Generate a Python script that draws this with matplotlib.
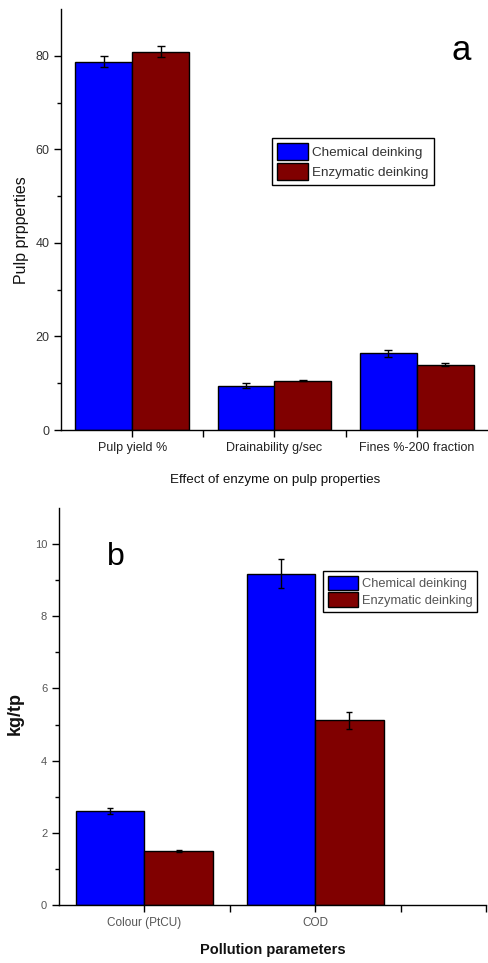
import matplotlib
matplotlib.use("Agg")
import matplotlib.pyplot as plt
import numpy as np

plt.rcParams['font.family'] = ['Liberation Sans', 'DejaVu Sans']

# Panel a data
cats_a = ["Pulp yield %", "Drainability g/sec", "Fines %-200 fraction"]
chem_a = [78.7, 9.5, 16.4]
chem_a_err = [1.2, 0.5, 0.8]
enz_a = [80.9, 10.5, 14.0]
enz_a_err = [1.2, 0.1, 0.4]

# Panel b data
cats_b = ["Colour (PtCU)", "COD"]
chem_b = [2.61, 9.18]
chem_b_err = [0.09, 0.41]
enz_b = [1.50, 5.12]
enz_b_err = [0.03, 0.23]

series_names = ["Chemical deinking", "Enzymatic deinking"]
blue = "#0000FF"
red = "#800000"

W, H = 489, 963
fig = plt.figure(figsize=(W / 100, H / 100), dpi=100)

def px_axes(l, r, t, b):
    return fig.add_axes([l / W, 1 - b / H, (r - l) / W, (b - t) / H])

def style(ax, tick_color, fs):
    for s in ["top", "right"]:
        ax.spines[s].set_visible(False)
    for s in ["left", "bottom"]:
        ax.spines[s].set_linewidth(1.0)
    ax.tick_params(axis="both", which="major", direction="out", length=5, width=1,
                   labelsize=fs, labelcolor=tick_color)
    ax.tick_params(axis="both", which="minor", direction="out", length=3, width=1)

# ---------- Panel a ----------
ax1 = px_axes(61, 488, 9, 430)
x = np.arange(1, len(cats_a) + 1)
w = 0.4
ax1.bar(x - w / 2, chem_a, w, color=blue, edgecolor="black", linewidth=1,
        yerr=chem_a_err, capsize=3, error_kw=dict(elinewidth=1, capthick=1),
        label=series_names[0])
ax1.bar(x + w / 2, enz_a, w, color=red, edgecolor="black", linewidth=1,
        yerr=enz_a_err, capsize=3, error_kw=dict(elinewidth=1, capthick=1),
        label=series_names[1])
ax1.set_xlim(0.5, 3.5)
ax1.set_ylim(0, 90)
ax1.set_yticks([0, 20, 40, 60, 80])
ax1.set_yticks([10, 30, 50, 70], minor=True)
ax1.set_xticks([1, 1.5, 2, 2.5, 3])
ax1.set_xticklabels([cats_a[0], "", cats_a[1], "", cats_a[2]])
style(ax1, "#333333", 9)
for lbl in ax1.get_xticklabels():
    lbl.set_color("#222222")
ax1.text(0.937, 0.879, "a", transform=ax1.transAxes, fontsize=25, ha="center", va="baseline")
leg1 = ax1.legend(loc="upper left", bbox_to_anchor=(0.494, 0.694), fontsize=9.7,
                  handlelength=2.3, handleheight=1.55, labelspacing=0.2,
                  handletextpad=0.3, borderpad=0.4, borderaxespad=0,
                  fancybox=False, framealpha=1, edgecolor="black")
leg1.get_frame().set_linewidth(1.0)
for t in leg1.get_texts():
    t.set_color("#333333")

fig.text(22 / W, 1 - 230 / H, "Pulp prpperties", rotation=90, ha="center", va="center",
         fontsize=11.5, color="#111111")
fig.text(275 / W, 1 - 480 / H, "Effect of enzyme on pulp properties", ha="center",
         va="center", fontsize=9.6, color="#111111")

# ---------- Panel b ----------
ax2 = px_axes(59, 486, 508, 905)
xb = np.arange(1, len(cats_b) + 1)
ax2.bar(xb - w / 2, chem_b, w, color=blue, edgecolor="black", linewidth=1,
        yerr=chem_b_err, capsize=2.5, error_kw=dict(elinewidth=1, capthick=1),
        label=series_names[0])
ax2.bar(xb + w / 2, enz_b, w, color=red, edgecolor="black", linewidth=1,
        yerr=enz_b_err, capsize=2.5, error_kw=dict(elinewidth=1, capthick=1),
        label=series_names[1])
ax2.set_xlim(0.5, 3.0)
ax2.set_ylim(0, 11)
ax2.set_yticks([0, 2, 4, 6, 8, 10])
ax2.set_yticks([1, 3, 5, 7, 9], minor=True)
ax2.set_xticks([1, 1.5, 2, 2.5, 3])
ax2.set_xticklabels([cats_b[0], "", cats_b[1], "", ""])
style(ax2, "#555555", 8.5)
ax2.tick_params(axis="y", labelsize=8)
ax2.text(0.132, 0.856, "b", transform=ax2.transAxes, fontsize=23, ha="center", va="baseline")
leg2 = ax2.legend(loc="upper left", bbox_to_anchor=(0.618, 0.842), fontsize=9.3,
                  handlelength=2.3, handleheight=1.35, labelspacing=0.15,
                  handletextpad=0.3, borderpad=0.4, borderaxespad=0,
                  fancybox=False, framealpha=1, edgecolor="black")
leg2.get_frame().set_linewidth(1.0)
for t in leg2.get_texts():
    t.set_color("#555555")

fig.text(15 / W, 1 - 713 / H, "kg/tp", rotation=90, ha="center", va="center",
         fontsize=13, fontweight="bold", color="#111111")
fig.text(273 / W, 1 - 950 / H, "Pollution parameters", ha="center", va="center",
         fontsize=10.5, fontweight="bold", color="#111111")

fig.savefig("out.png", dpi=100)
